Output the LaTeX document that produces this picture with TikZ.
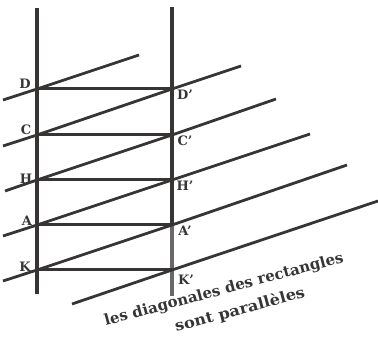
\documentclass[tikz,border=0pt]{standalone}
\usepackage{fontspec}
\setmainfont{DejaVu Serif}
\usetikzlibrary{calc}
\definecolor{sumi}{RGB}{55,52,52}
\tikzset{
  tate/.style={line width=3.4pt,color=sumi},
  yoko/.style={line width=3pt,color=sumi},
  naname/.style={line width=2.8pt,color=sumi},
  lab/.style={font=\fontsize{13}{13}\selectfont\bfseries,text=sumi,inner sep=0pt},
  bun/.style={rotate=15,text=sumi,inner sep=0pt,font=\fontsize{15}{17}\selectfont\bfseries},
}
\begin{document}
\begin{tikzpicture}[x=1pt,y=-1pt]
\useasboundingbox(0,0)rectangle(378,339);

%点
\coordinate(D)at(37,89);  \coordinate(Dp)at(172,89);
\coordinate(C)at(37,135); \coordinate(Cp)at(172,135);
\coordinate(H)at(37,180); \coordinate(Hp)at(172,180);
\coordinate(A)at(37,225); \coordinate(Ap)at(172,225);
\coordinate(K)at(37,270); \coordinate(Kp)at(172,270);

%縦線
\coordinate(L1)at(37,8);  \coordinate(L2)at(37,294);
\coordinate(R1)at(172,7); \coordinate(R2)at(172,296);
\draw[tate](L1)to(A); %左上
\draw[tate](A)to(L2); %左下
\draw[tate](R1)to(Ap); %右上
\draw[tate,color=sumi!75](Ap)to(R2); %右下

%横線
\draw[yoko](D)to(Dp);
\draw[yoko](C)to(Cp);
\draw[yoko](H)to(Hp);
\draw[yoko](A)to(Ap);
\draw[yoko](K)to(Kp);

%対角線
\coordinate(d1)at(3,100);  \coordinate(e1)at(139,55);
\coordinate(d2)at(3,146);  \coordinate(e2)at(241,66);
\coordinate(d3)at(5,191);  \coordinate(e3)at(276,99);
\coordinate(d4)at(3,236);  \coordinate(e4)at(310,134);
\coordinate(d5)at(3,281);  \coordinate(e5)at(347,165);
\coordinate(d6)at(72,304); \coordinate(e6)at(378,201);
\draw[naname](d1)to(D)to(e1);
\draw[naname](d2)to(C)to(Dp)to(e2);
\draw[naname](d3)to(H)to(Cp)to(e3);
\draw[naname](d4)to(A)to(Hp)to(e4);
\draw[naname](d5)to(K)to(Ap)to(e5);
\draw[naname](d6)to(Kp)to(e6);

%ラベル
\node[lab](lD)at(25,84){D};  \node[lab](lDp)at(185,95){D'};
\node[lab](lC)at(26,130){C}; \node[lab](lCp)at(185,141){C'};
\node[lab](lH)at(26,179){H}; \node[lab](lHp)at(185,186){H'};
\node[lab](lA)at(27,221){A}; \node[lab](lAp)at(185,231){A'};
\node[lab](lK)at(25,267){K}; \node[lab](lKp)at(186,280){K'};

%文
\node[bun](txt1)at(224,290){les diagonales des rectangles};
\node[bun,xscale=1.08](txt2)at(240,310){sont parallèles};
\end{tikzpicture}
\end{document}
